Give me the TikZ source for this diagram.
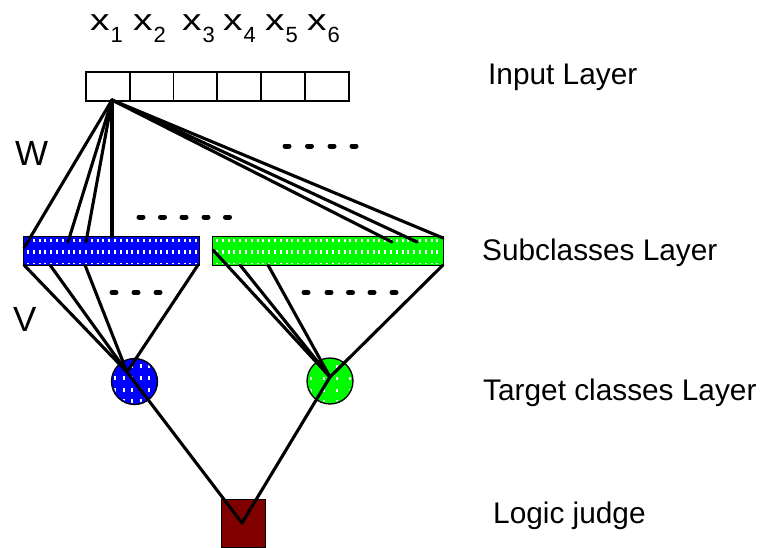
\documentclass[tikz,border=0pt]{standalone}
\usepackage{fontspec}
\setmainfont{Liberation Sans}
\begin{document}
\begin{tikzpicture}[x=1pt,y=-1pt,
  wire/.style={line width=3.1pt, line cap=round},
  cell/.style={draw=black, line width=1.8pt, minimum width=43.8pt, minimum height=29pt,
    inner sep=0pt, anchor=north west},
  barbox/.style={draw=black, line width=1.3pt, minimum height=29pt, inner sep=0pt,
    anchor=north west},
  unit/.style={draw=black, line width=1.3pt, circle, minimum size=46pt, inner sep=0pt},
  speckle/.style={white, line width=3.6pt, dash pattern=on 2pt off 3.8pt},
  faint/.style={white, line width=1pt, dash pattern=on 2pt off 3.8pt},
  ellip/.style={line width=5pt, line cap=round},
  lbl/.style={anchor=base west, inner sep=0pt, font=\fontsize{29.8}{31}\selectfont},
  big/.style={anchor=base west, inner sep=0pt, font=\fontsize{35}{36}\selectfont},
  xin/.style={anchor=base west, inner sep=0pt, font=\fontsize{30}{30}\selectfont}
]
\definecolor{judgered}{RGB}{128,0,0}
\definecolor{subgreen}{RGB}{0,250,0}
\useasboundingbox (0,0) rectangle (760,547);

% input symbols
\newcommand{\insym}[1]{\scalebox{1.3}[1]{x}\hspace{1pt}\raisebox{-12pt}{\fontsize{22}{22}\selectfont #1}}
\node[xin] (x1) at (90,30) {\insym{1}};
\node[xin] (x2) at (133,30) {\insym{2}};
\node[xin] (x3) at (182,30) {\insym{3}};
\node[xin] (x4) at (223,30) {\insym{4}};
\node[xin] (x5) at (265,30) {\insym{5}};
\node[xin] (x6) at (307,30) {\insym{6}};

% input layer cells
\foreach \i in {1,...,6}
  \node[cell] (c\i) at ({85+43.8*(\i-1)},71) {};

% subclass bars
\node[barbox, fill=blue, minimum width=176pt] (subA) at (23,236) {};
\node[barbox, fill=subgreen, minimum width=231pt] (subB) at (212,236) {};
\foreach \y in {240.5,252} {
  \draw[speckle] (27,\y) -- (197,\y);
  \draw[speckle] (216,\y) -- (441,\y);
}
\draw[faint] (27,263.5) -- (197,263.5);
\draw[faint] (216,263.5) -- (441,263.5);

% target class units
\node[unit, fill=blue] (tA) at (134.5,381.5) {};
\node[unit, fill=subgreen] (tB) at (330,381) {};
\begin{scope}
  \clip (134.5,381.5) circle[radius=21.5];
  \foreach \y in {366,378,390,401}
    \draw[white, line width=3.2pt, dash pattern=on 2pt off 6.5pt] (114,\y) -- (156,\y);
\end{scope}
\begin{scope}
  \clip (330,381) circle[radius=21.5];
  \foreach \y in {366,378,390,401}
    \draw[white, line width=3pt, dash pattern=on 2pt off 11pt] (310,\y) -- (352,\y);
\end{scope}

% logic judge
\node[draw=black, line width=1.3pt, fill=judgered, minimum width=44pt, minimum height=48pt,
  inner sep=0pt, anchor=north west] (judge) at (221,499) {};

% connection points
\coordinate (src) at (112,100);
\coordinate (wb1) at (24,248);
\coordinate (wb2) at (68,242);
\coordinate (wb3) at (86,242);
\coordinate (wb4) at (112,237);
\coordinate (wg1) at (392,242);
\coordinate (wg2) at (417,242);
\coordinate (wg3) at (443,238);
\coordinate (vb1) at (24,265);
\coordinate (vb2) at (50,265);
\coordinate (vb3) at (85,265);
\coordinate (vb4) at (198,265);
\coordinate (vg1) at (213,250);
\coordinate (vg2) at (240,265);
\coordinate (vg3) at (268,265);
\coordinate (vg4) at (443,265);
\coordinate (hubA) at (127,372);
\coordinate (hubB) at (330,377);
\coordinate (jm) at (242,523);

% W weights
\foreach \e in {wb1,wb2,wb3,wb4,wg1,wg2,wg3}
  \draw[wire] (src) -- (\e);
% V weights
\foreach \s in {vb1,vb2,vb3,vb4}
  \draw[wire] (\s) -- (hubA);
\foreach \s in {vg1,vg2,vg3,vg4}
  \draw[wire] (\s) -- (hubB);
% to the judge
\draw[wire] (hubA) -- (jm);
\draw[wire] (hubB) -- (jm);

% ellipsis marks
\foreach \x in {285,307.5,330,352}
  \draw[ellip] (\x,146) -- ++(4,0);
\foreach \x in {139,160.5,182,204,225.5}
  \draw[ellip] (\x,217) -- ++(4,0);
\foreach \x in {112,134,156}
  \draw[ellip] (\x,292.5) -- ++(4,0);
\foreach \x in {304,327,348.5,370,392}
  \draw[ellip] (\x,292.5) -- ++(4,0);

% weight names
\node[big] (wname) at (15,165) {W};
\node[big] (vname) at (13,331) {V};

% layer names
\node[lbl] (lin) at (488,84) {Input Layer};
\node[lbl] (lsub) at (482,260) {Subclasses Layer};
\node[lbl] (ltar) at (483,400) {Target classes Layer};
\node[lbl] (ljud) at (493,523) {Logic judge};
\end{tikzpicture}
\end{document}
